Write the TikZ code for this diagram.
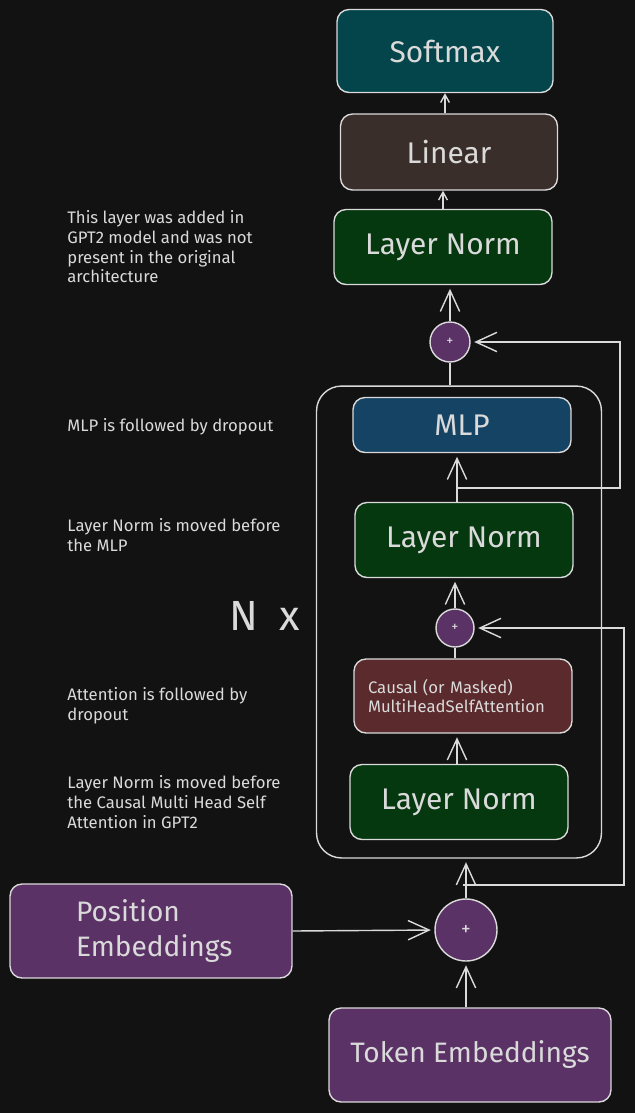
\documentclass[tikz,border=0pt]{standalone}
\usepackage{fontspec}
\setmainfont{Fira Sans}
\usetikzlibrary{arrows.meta}
\definecolor{canvas}{HTML}{121212}
\definecolor{ink}{HTML}{DADADA}
\definecolor{tealbox}{HTML}{03454B}
\definecolor{brownbox}{HTML}{3A2E2A}
\definecolor{greenbox}{HTML}{05380F}
\definecolor{bluebox}{HTML}{154364}
\definecolor{redbox}{HTML}{5A2A2C}
\definecolor{purplebox}{HTML}{5A3266}
\tikzset{
  block/.style={draw=ink, line width=0.8pt, rounded corners=0.24cm, text=ink, minimum width=4.36cm, minimum height=1.5cm, font=\fontsize{17}{20}\selectfont},
  plus/.style={circle, draw=ink, line width=0.8pt, fill=purplebox, text=ink, inner sep=0pt, font=\fontsize{8}{9}\selectfont},
  note/.style={anchor=north west, inner sep=0pt, align=left, text=ink, font=\fontsize{9.5}{11.3}\selectfont},
  wire/.style={draw=ink, line width=0.8pt},
  flow/.style={wire, -{Straight Barb[length=12pt,width=11pt]}, shorten >=2pt},
  link/.style={wire, -{Straight Barb[length=4.5pt,width=5pt]}},
}
\begin{document}
\begin{tikzpicture}[x=0.02cm, y=-0.02cm]
  \fill[canvas] (0,0) rectangle (635,1113);
  \useasboundingbox (0,0) rectangle (635,1113);

  % output head
  \node[block, fill=tealbox, minimum width=4.32cm, minimum height=1.66cm] (softmax) at (445,51) {Softmax};
  \node[block, fill=brownbox, minimum width=4.34cm, minimum height=1.52cm] (linear) at (449,152) {Linear};
  \node[block, fill=greenbox] (normTop) at (443,247) {Layer Norm};
  \node[plus, minimum size=0.8cm] (plusTop) at (450,342) {+};

  % repeated decoder block
  \node[wire, rounded corners=0.5cm, minimum width=5.7cm, minimum height=9.44cm] (blockN) at (459,622) {};
  \node[block, fill=bluebox, minimum height=1.1cm] (mlp) at (462,425) {MLP};
  \node[block, fill=greenbox] (normMlp) at (464,540) {Layer Norm};
  \node[plus, minimum size=0.76cm] (plusAttn) at (455,628) {+};
  \node[block, fill=redbox, minimum height=1.48cm, align=left, text width=3.8cm, inner xsep=0.28cm, font=\fontsize{9.5}{11.3}\selectfont] (attn) at (463,696) {Causal (or Masked)\\MultiHeadSelfAttention};
  \node[block, fill=greenbox] (normAttn) at (459,802) {Layer Norm};
  \node[text=ink, font=\fontsize{24}{28}\selectfont] (times) at (265,616) {N\enspace x};

  % embeddings
  \node[plus, minimum size=1.24cm, font=\fontsize{11}{12}\selectfont] (plusEmb) at (466,930) {+};
  \node[block, fill=purplebox, minimum width=5.64cm, minimum height=1.88cm, align=left, text width=3cm, inner xsep=1.32cm, font=\fontsize{16}{19.8}\selectfont] (posEmb) at (151,931) {Position\\Embeddings};
  \node[block, fill=purplebox, minimum width=5.64cm, minimum height=1.88cm, font=\fontsize{16}{19}\selectfont] (tokEmb) at (470,1055) {Token Embeddings};

  % notes
  \node[note] (noteTop) at (67,210) {This layer was added in\\GPT2 model and was not\\present in the original\\architecture};
  \node[note] (noteMlp) at (67,418) {MLP is followed by dropout};
  \node[note] (noteMlpNorm) at (67,518) {Layer Norm is moved before\\the MLP};
  \node[note] (noteAttn) at (67,687) {Attention is followed by\\dropout};
  \node[note] (noteAttnNorm) at (67,775) {Layer Norm is moved before\\the Causal Multi Head Self\\Attention in GPT2};

  % connectors
  \coordinate (splitMlp) at (457,488);
  \coordinate (loopMlp) at (620,488);
  \coordinate (splitAttn) at (463,885);
  \coordinate (loopAttn) at (624,885);

  \draw[link] (softmax.south |- linear.north) -- (softmax.south);
  \draw[link] (normTop.north) -- (normTop.north |- linear.south);
  \draw[flow] (plusTop.north) -- (plusTop.north |- normTop.south);
  \draw[wire] (plusTop.south) -- (plusTop.south |- blockN.north);
  \draw[flow] (splitMlp |- normMlp.north) -- (splitMlp |- mlp.south);
  \draw[flow] (splitMlp) -- (loopMlp) |- (plusTop.east);
  \draw[flow] (plusAttn.north) -- (plusAttn.north |- normMlp.south);
  \draw[wire] (plusAttn.south |- attn.north) -- (plusAttn.south);
  \draw[flow] (splitMlp |- normAttn.north) -- (splitMlp |- attn.south);
  \draw[flow] (splitAttn) -- (loopAttn) |- (plusAttn.east);
  \draw[flow] (plusEmb.north) -- (plusEmb.north |- blockN.south);
  \draw[flow] (posEmb.east) -- (plusEmb.west);
  \draw[flow] (tokEmb.north -| plusEmb) -- (plusEmb.south);
\end{tikzpicture}
\end{document}
